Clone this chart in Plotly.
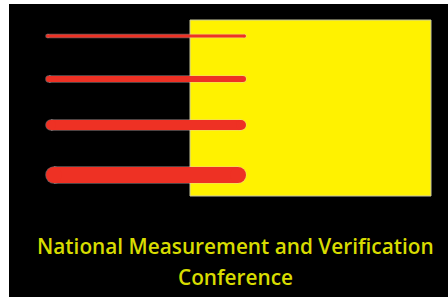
import plotly.graph_objects as go

# Data
bar_names = ["Line 1", "Line 2", "Line 3", "Line 4"]
bar_levels = [36, 79, 125, 175]
bar_widths = [3, 6, 10, 16]
bar_start = 46
bar_end = 246
box_x = [190, 431]
box_y = [20, 196]
title_lines = ["National Measurement and Verification", "Conference"]

RED = "#EE3124"
YELLOW = "#FFF200"
TEXT = "#D8DC00"

fig = go.Figure()

fig.add_shape(type="rect", x0=box_x[0], x1=box_x[1], y0=box_y[0], y1=box_y[1],
              xref="x", yref="y", fillcolor=YELLOW,
              line=dict(color="#C8C8A0", width=1), layer="below")

for name, yv, w in zip(bar_names, bar_levels, bar_widths):
    xs = [bar_start + w / 2, bar_end - w / 2]
    # faint light halo
    fig.add_trace(go.Scatter(
        x=xs, y=[yv, yv], mode="lines+markers", name=name + " halo",
        line=dict(color="rgba(230,200,200,0.45)", width=w + 1.5),
        marker=dict(color="rgba(230,200,200,0.45)", size=w + 1.5, line=dict(width=0)),
        hoverinfo="skip", showlegend=False))
    fig.add_trace(go.Scatter(
        x=xs, y=[yv, yv], mode="lines+markers", name=name,
        line=dict(color=RED, width=w),
        marker=dict(color=RED, size=w, line=dict(width=0)),
        hoverinfo="skip", showlegend=False))

fig.add_annotation(x=235, y=246, xref="x", yref="y", text=title_lines[0],
                   showarrow=False, font=dict(family="Open Sans", size=20.8, color=TEXT, weight=600))
fig.add_annotation(x=235, y=277, xref="x", yref="y", text=title_lines[1],
                   showarrow=False, font=dict(family="Open Sans", size=20.8, color=TEXT, weight=600))

fig.update_layout(
    width=448, height=297,
    margin=dict(l=9, r=0, t=4, b=0),
    paper_bgcolor="white", plot_bgcolor="black",
    xaxis=dict(range=[9, 448], visible=False, fixedrange=True),
    yaxis=dict(range=[297, 4], visible=False, fixedrange=True),
    showlegend=False,
)

fig.write_html("out.html", config={"displayModeBar": False},
               post_script="document.body.style.margin='0';document.body.style.overflow='hidden';")
